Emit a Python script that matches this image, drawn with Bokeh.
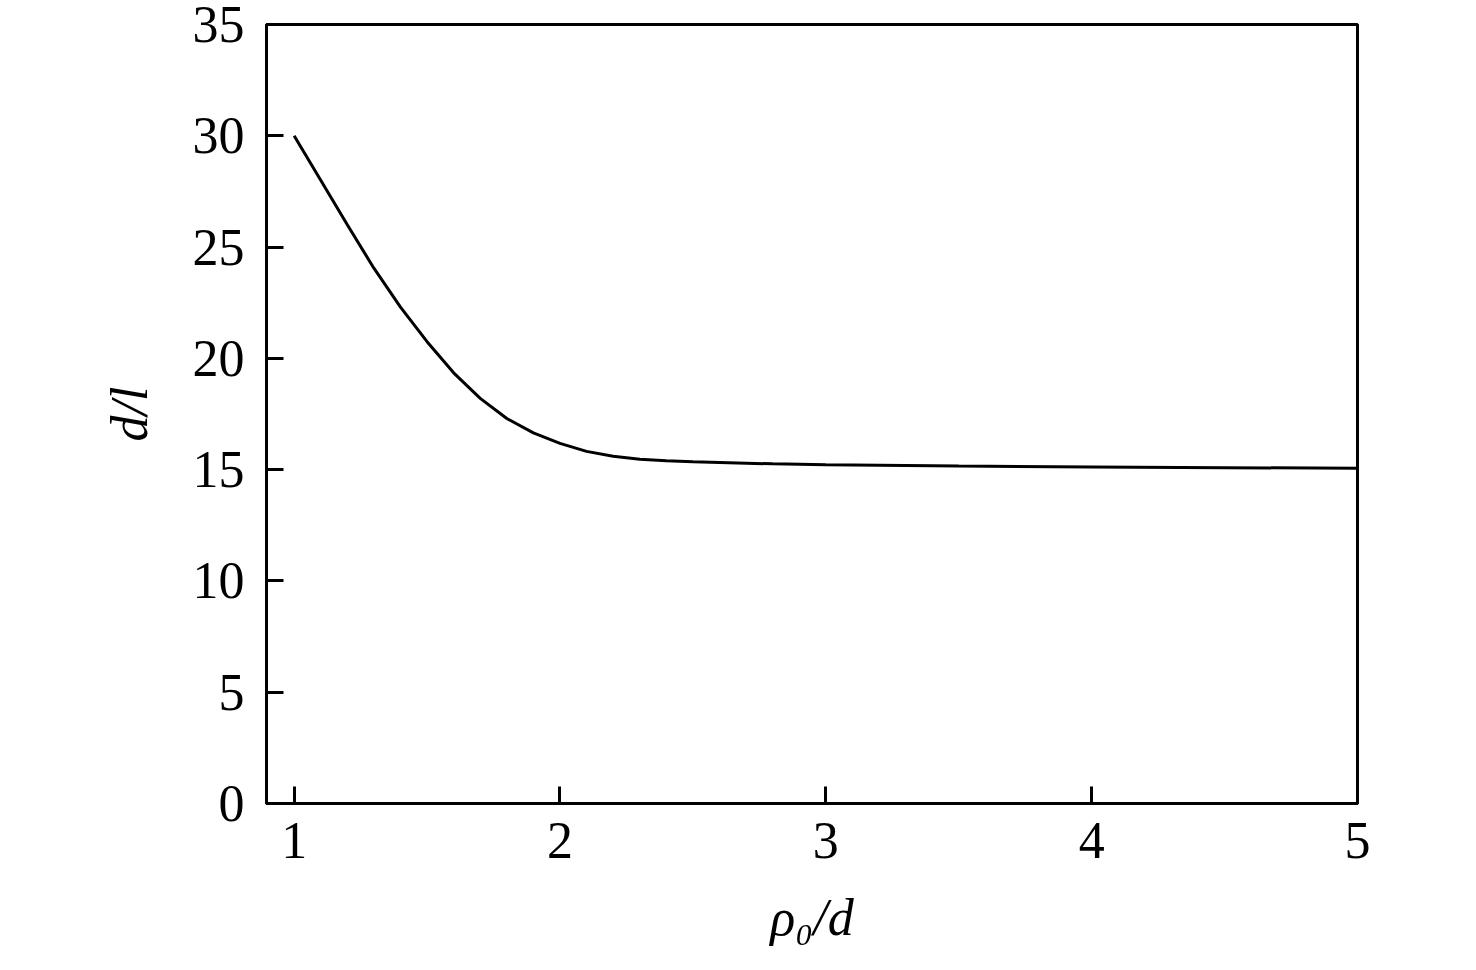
from bokeh.plotting import figure
from bokeh.models import FixedTicker, Range1d
from bokeh.embed import file_html
from bokeh.resources import INLINE

# data
rho_over_d = [1.0, 1.1, 1.2, 1.3, 1.4, 1.5, 1.6, 1.7, 1.8, 1.9, 2.0, 2.1, 2.2,
              2.3, 2.4, 2.5, 2.6, 2.8, 3.0, 3.5, 4.0, 4.5, 5.0]
d_over_l = [30.0, 28.0, 26.0, 24.05, 22.3, 20.75, 19.35, 18.2, 17.3, 16.65, 16.18,
            15.82, 15.6, 15.47, 15.4, 15.35, 15.32, 15.26, 15.22, 15.16, 15.12, 15.09, 15.06]
x_ticks = [1, 2, 3, 4, 5]
y_ticks = [0, 5, 10, 15, 20, 25, 30, 35]

FONT = "Liberation Serif"

p = figure(width=1460, height=960, output_backend="svg", toolbar_location=None,
           x_range=Range1d(0.896, 5.0), y_range=Range1d(0, 35),
           min_border_left=266, min_border_right=103, min_border_top=24,
           min_border_bottom=157)

p.line(rho_over_d, d_over_l, line_color="black", line_width=3)

p.grid.visible = False
p.outline_line_color = "black"
p.outline_line_width = 3
p.background_fill_color = "white"
p.border_fill_color = "white"

for ax in (p.xaxis[0], p.yaxis[0]):
    ax.axis_line_width = 3
    ax.axis_line_color = "black"
    ax.major_tick_in = 17
    ax.major_tick_out = 0
    ax.major_tick_line_width = 3
    ax.major_tick_line_color = "black"
    ax.minor_tick_line_color = None
    ax.major_label_text_font = FONT
    ax.major_label_text_font_size = "52px"
    ax.major_label_text_color = "black"
    ax.axis_label_text_font = FONT
    ax.axis_label_text_font_size = "52px"
    ax.axis_label_text_font_style = "italic"
    ax.axis_label_text_color = "black"

p.xaxis.ticker = FixedTicker(ticks=x_ticks)
p.yaxis.ticker = FixedTicker(ticks=y_ticks)
p.xaxis.major_label_standoff = 19
p.yaxis.major_label_standoff = 22
p.xaxis.axis_label = "ρ₀/d"
p.yaxis.axis_label = "d/l"
p.xaxis.axis_label_standoff = 28
p.yaxis.axis_label_standoff = 32

open("out.html", "w").write(file_html(p, INLINE))
